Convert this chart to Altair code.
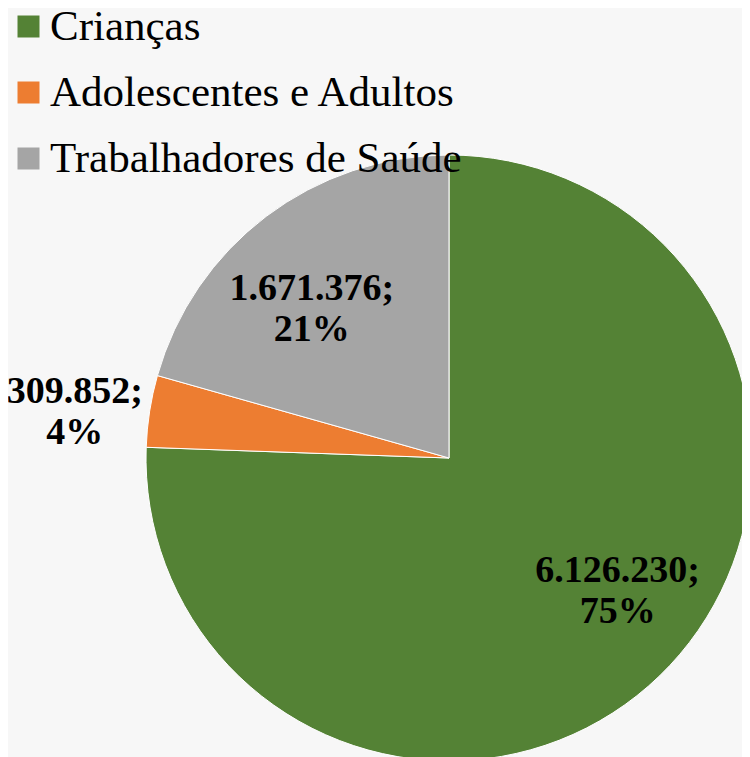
import altair as alt
import pandas as pd

categories = ["Crianças", "Adolescentes e Adultos", "Trabalhadores de Saúde"]
values = [6126230, 309852, 1671376]
percent_labels = ["75%", "4%", "21%"]
colors = ["#548235", "#ED7D31", "#A5A5A5"]


def fmt(v):
    return f"{v:,}".replace(",", ".")


df = pd.DataFrame({
    "categoria": categories,
    "valor": values,
    "ordem": list(range(len(categories))),
    "rotulo": [f"{fmt(v)};\n{p}" for v, p in zip(values, percent_labels)],
})

CX, CY, R = 441, 450, 303

color = alt.Color(
    "categoria:N",
    scale=alt.Scale(domain=categories, range=colors),
    sort=categories,
    legend=alt.Legend(
        orient="none", legendX=-1, legendY=-3, title=None,
        symbolType="square", symbolSize=484, symbolStrokeWidth=0,
        symbolOpacity=1,
        labelFont="Liberation Serif", labelFontSize=43, labelColor="#000000",
        labelOffset=0, rowPadding=22, padding=0, labelLimit=600,
    ),
)

base = alt.Chart(df).encode(
    theta=alt.Theta("valor:Q", stack=True),
    order=alt.Order("ordem:Q"),
)

pie = base.mark_arc(stroke="#ffffff", strokeWidth=1, radius=R).encode(
    color=color,
    x=alt.value(CX),
    y=alt.value(CY),
)


def label_layer(cat, r, off):
    return base.transform_calculate(
        txt=f"datum.categoria === '{cat}' ? datum.rotulo : ''"
    ).mark_text(
        font="Liberation Serif", fontSize=38, fontWeight="bold",
        color="#000000", lineBreak="\n", lineHeight=41,
        align="center", baseline="middle", radius=r, thetaOffset=off,
        dy=-20.5,
    ).encode(
        text="txt:N",
        x=alt.value(CX),
        y=alt.value(CY),
    )


labels = [
    label_layer(categories[0], 215, -0.134),
    label_layer(categories[1], 377, -0.035),
    label_layer(categories[2], 202, -0.0995),
]

chart = alt.layer(pie, *labels).properties(
    width=734, height=749,
    autosize=alt.AutoSizeParams(type="none"),
    padding=0,
    background="#f7f7f7",
).configure_view(stroke=None)

chart.save("out.html", embed_options={"renderer": "svg", "actions": False})
